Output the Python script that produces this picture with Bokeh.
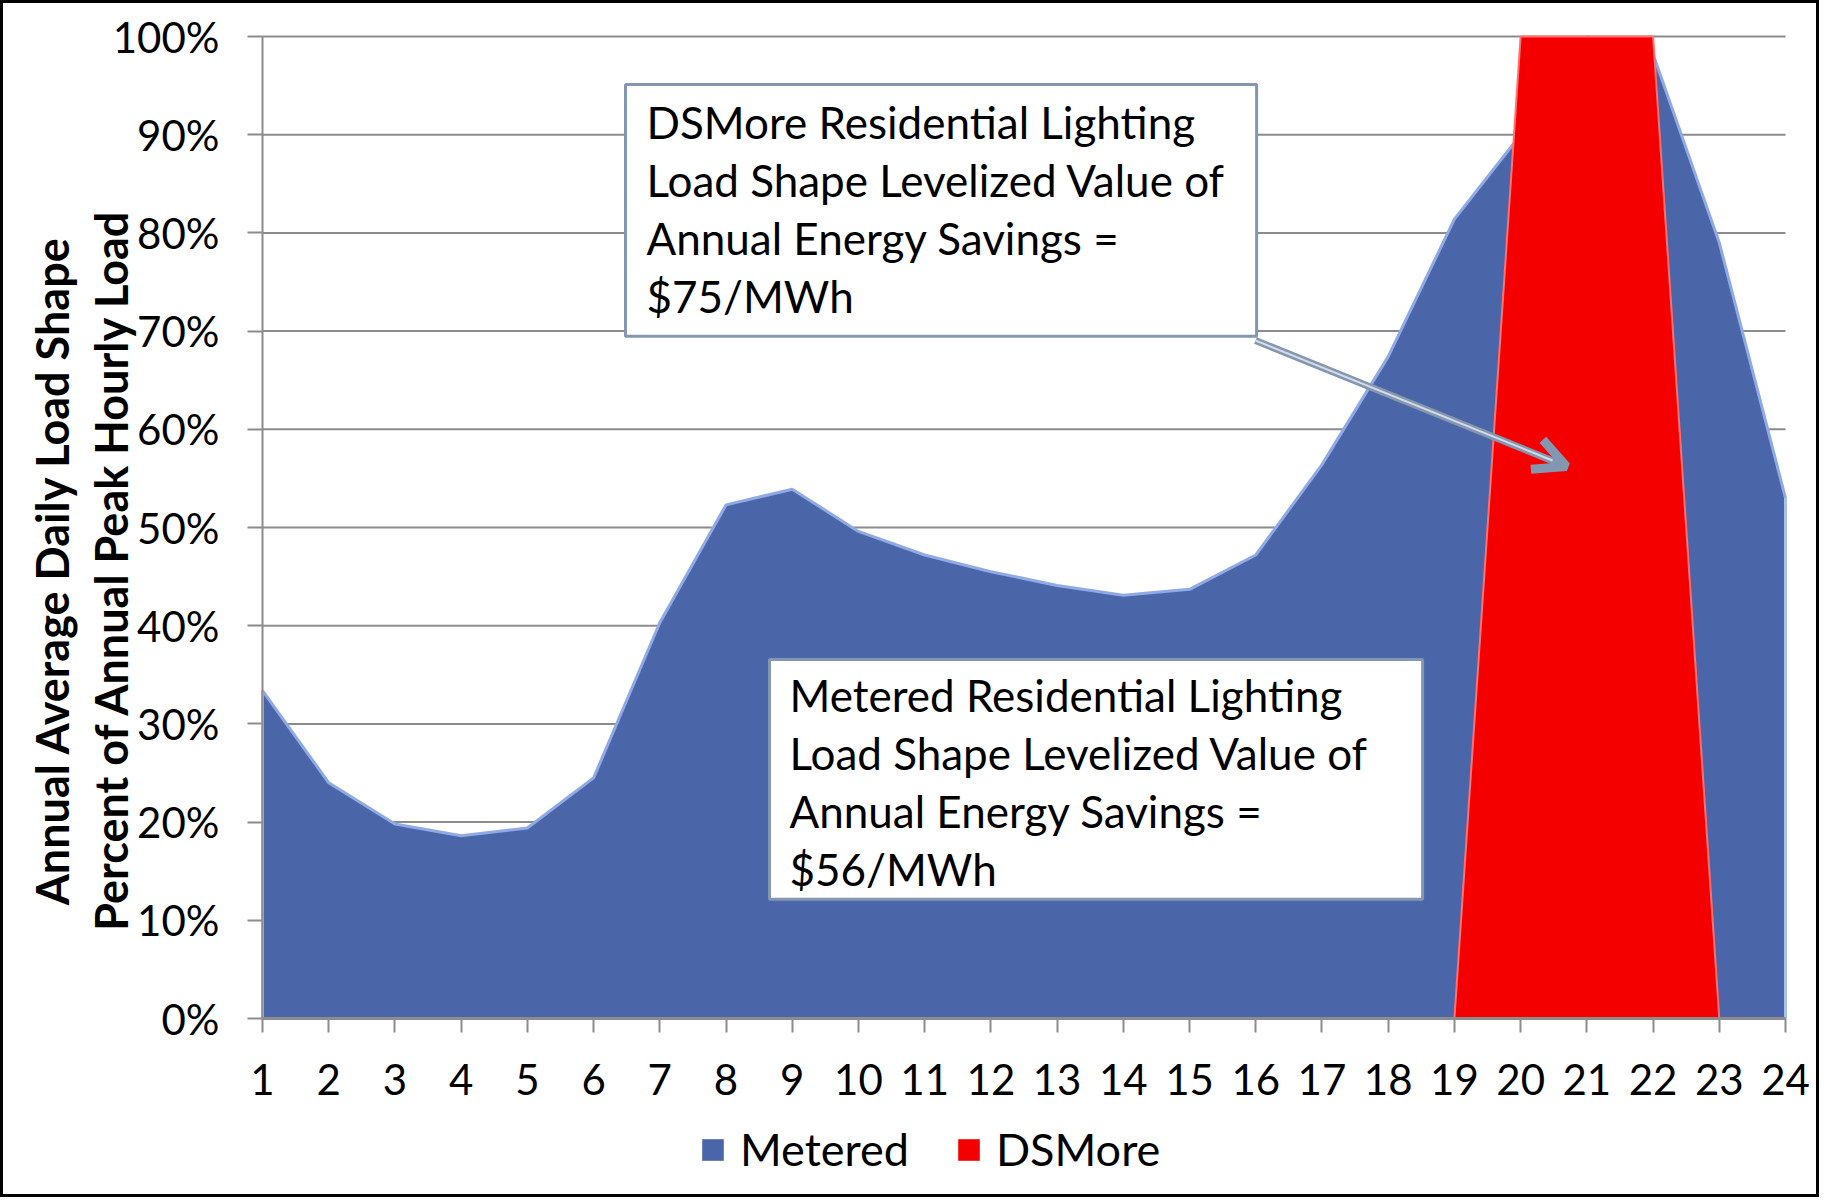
from math import pi
from bokeh.plotting import figure
from bokeh.models import (Range1d, NumeralTickFormatter, FixedTicker, Legend, LegendItem,
                          Label, Arrow, OpenHead)
from bokeh.embed import file_html
from bokeh.resources import INLINE

# ---------------- data ----------------
hours = list(range(1, 25))
hour_labels = [str(h) for h in hours]
metered = [0.334, 0.240, 0.198, 0.186, 0.194, 0.245, 0.403, 0.523, 0.539, 0.496, 0.472, 0.455,
           0.441, 0.431, 0.437, 0.472, 0.564, 0.674, 0.814, 0.900, 1.000, 0.982, 0.790, 0.530]
dsmore = [0.0, 0.0, 0.0, 0.0, 0.0, 0.0, 0.0, 0.0, 0.0, 0.0, 0.0, 0.0,
          0.0, 0.0, 0.0, 0.0, 0.0, 0.0, 0.0, 1.0, 1.0, 1.0, 0.0, 0.0]
y_ticks = [0.0, 0.1, 0.2, 0.3, 0.4, 0.5, 0.6, 0.7, 0.8, 0.9, 1.0]
series_names = ["Metered", "DSMore"]
y_title_1 = "Annual Average Daily Load Shape"
y_title_2 = "Percent of Annual Peak  Hourly  Load"
note_dsmore = "DSMore Residential Lighting\nLoad Shape Levelized Value of\nAnnual Energy Savings =\n$75/MWh"
note_metered = "Metered Residential Lighting\nLoad Shape Levelized Value of\nAnnual Energy Savings =\n$56/MWh"

# ---------------- layout / style ----------------
FONT = "Lato"
BLUE = "#4A65A8"
RED = "#F40000"
GRID = "#8C8C8C"
SLATE = "#8497B0"
W, H = 1819, 1197            # canvas size (page offset 3px for the black frame)
ORG = 3                      # canvas origin on the page
PX_LEFT, PX_RIGHT = 262, 1785   # page x of first / last hour
PX_BOT, PX_TOP = 1018, 36       # page y of 0% / 100%

ux = (PX_RIGHT - PX_LEFT) / (hours[-1] - hours[0])
uy = (PX_BOT - PX_TOP) / (y_ticks[-1] - y_ticks[0])
x_range = Range1d(hours[0] - (PX_LEFT - ORG) / ux, hours[-1] + (ORG + W - PX_RIGHT) / ux)
y_range = Range1d(y_ticks[0] - (ORG + H - PX_BOT) / uy, y_ticks[-1] + (PX_TOP - ORG) / uy)

p = figure(width=W, height=H, output_backend="svg", toolbar_location=None,
           x_range=x_range, y_range=y_range,
           min_border_left=0, min_border_right=0, min_border_top=0, min_border_bottom=0)
p.styles = {"border": "3px solid black"}
p.outline_line_color = None
p.background_fill_color = "white"
p.xgrid.visible = False
p.ygrid.visible = False

def sx(page_x):
    return page_x - ORG

def sy(page_y):
    return ORG + H - page_y

# horizontal gridlines at the tick values
p.segment(x0=[hours[0]] * len(y_ticks), x1=[hours[-1]] * len(y_ticks), y0=y_ticks, y1=y_ticks,
          line_color=GRID, line_width=2)

# areas
r_blue = p.varea(x=hours, y1=0, y2=metered, fill_color=BLUE)
p.line(hours, metered, line_color="#8FAAE4", line_width=3)
p.segment(x0=[hours[0], hours[-1]], y0=[0, 0], x1=[hours[0], hours[-1]], y1=[metered[0], metered[-1]],
          line_color="#A9C0F0", line_width=3)
r_red = p.varea(x=hours, y1=0, y2=dsmore, fill_color=RED)
p.line(hours[18:23], dsmore[18:23], line_color="#FF7070", line_width=2)

# axes drawn at fixed data locations (inside the canvas frame)
p.yaxis.fixed_location = hours[0]
p.yaxis.bounds = (y_ticks[0], y_ticks[-1])
p.xaxis.fixed_location = y_ticks[0]
p.xaxis.bounds = (hours[0], hours[-1])
p.yaxis.ticker = FixedTicker(ticks=y_ticks)
p.yaxis.formatter = NumeralTickFormatter(format="0%")
p.xaxis.ticker = FixedTicker(ticks=hours)
p.xaxis.major_label_overrides = {h: s for h, s in zip(hours, hour_labels)}
for ax in (p.xaxis, p.yaxis):
    ax.axis_line_color = GRID
    ax.axis_line_width = 2
    ax.major_tick_line_color = GRID
    ax.major_tick_line_width = 2
    ax.major_tick_in = 0
    ax.minor_tick_line_color = None
    ax.major_label_text_font = FONT
    ax.major_label_text_font_size = "42px"
    ax.major_label_text_color = "black"
p.yaxis.major_tick_out = 15
p.yaxis.major_label_standoff = 28
p.xaxis.major_tick_out = 14
p.xaxis.major_label_standoff = 31
p.xaxis.axis_line_width = 3

# y-axis titles (two lines)
for txt, px, py in ((y_title_1, 51, 570), (y_title_2, 110, 558)):
    p.add_layout(Label(x=sx(px), y=sy(py), x_units="screen", y_units="screen", text=txt,
                       angle=pi / 2, text_font=FONT, text_font_style="bold",
                       text_font_size="45px", text_align="center", text_baseline="middle",
                       text_color="black"))

# annotation boxes
box_style = dict(x_units="screen", y_units="screen", text_font=FONT, text_font_size="44px",
                 text_line_height=1.12, anchor="top_left", text_color="black",
                 background_fill_color="white", border_line_color=SLATE, border_line_width=3)
p.add_layout(Label(x=sx(625), y=sy(84), text=note_dsmore, padding=(21, 31, 11, 14), **box_style))
p.add_layout(Label(x=sx(769), y=sy(659), text=note_metered, padding=(20, 54, 9, 4), **box_style))

# arrow (double-line look)
p.add_layout(Arrow(x_start=sx(1255), y_start=sy(340), x_end=sx(1566), y_end=sy(466),
                   start_units="screen", end_units="screen",
                   line_color=SLATE, line_width=7,
                   end=OpenHead(size=32, line_color=SLATE, line_width=9)))
p.add_layout(Arrow(x_start=sx(1255), y_start=sy(340), x_end=sx(1552), y_end=sy(460),
                   start_units="screen", end_units="screen",
                   line_color="#D5DCE8", line_width=2, end=None))

# legend
legend = Legend(items=[LegendItem(label=series_names[0], renderers=[r_blue]),
                       LegendItem(label=series_names[1], renderers=[r_red])],
                orientation="horizontal", location=(sx(699), 24),
                border_line_color=None, background_fill_alpha=0,
                label_text_font=FONT, label_text_font_size="45px", label_text_color="black",
                glyph_width=27, glyph_height=27, spacing=46, padding=0, margin=0,
                label_standoff=14)
p.add_layout(legend)

open("out.html", "w").write(file_html(p, INLINE))
